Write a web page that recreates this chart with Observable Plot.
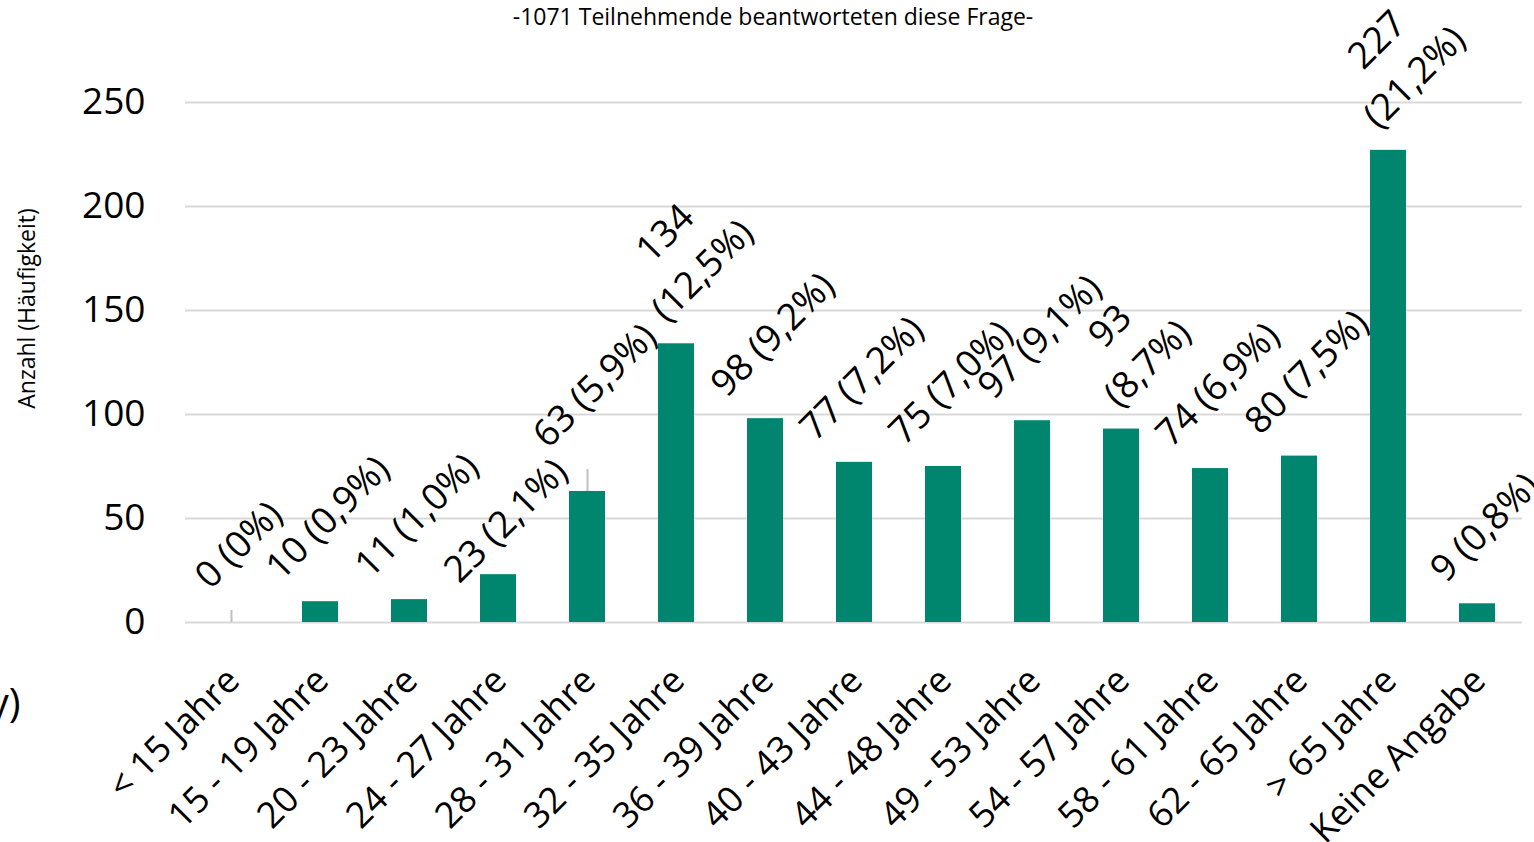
<!DOCTYPE html>
<html><head><meta charset="utf-8">
<script src="https://cdn.jsdelivr.net/npm/d3@7"></script>
<script src="https://cdn.jsdelivr.net/npm/@observablehq/plot@0.6"></script>
<style>
body{margin:0;background:#fff;font-family:"Open Sans",sans-serif;}
#wrap{position:relative;width:1534px;height:842px;overflow:hidden;background:#fff}
#title{position:absolute;left:0;width:1546px;top:0px;text-align:center;font-size:23px;color:#000;font-family:"Open Sans",sans-serif;z-index:2}
#wrap svg{position:absolute;left:0;top:0}
</style></head><body><div id="wrap"><div id="title"></div></div>
<script>
const title = "-1071 Teilnehmende beantworteten diese Frage-";
const categories = ["< 15 Jahre","15 - 19 Jahre","20 - 23 Jahre","24 - 27 Jahre","28 - 31 Jahre","32 - 35 Jahre","36 - 39 Jahre","40 - 43 Jahre","44 - 48 Jahre","49 - 53 Jahre","54 - 57 Jahre","58 - 61 Jahre","62 - 65 Jahre","> 65 Jahre","Keine Angabe"];
const counts = [0,10,11,23,63,134,98,77,75,97,93,74,80,227,9];
const percents = ["0","0,9","1,0","2,1","5,9","12,5","9,2","7,2","7,0","9,1","8,7","6,9","7,5","21,2","0,8"];
const wrapped = ["32 - 35 Jahre","54 - 57 Jahre","> 65 Jahre"];
const yTicks = [0,50,100,150,200,250];
const yTitle = "Anzahl (Häufigkeit)";
const xTitleFragment = "y)";

// labels that were dragged in the original (px, up positive); dragged-up ones show a leader line
const labelShift = {"< 15 Jahre": 12, "24 - 27 Jahre": -30, "28 - 31 Jahre": 22};

document.getElementById("title").textContent = title;

const data = categories.map((c,i)=>({
  cat:c, n:counts[i],
  label: wrapped.includes(c) ? `${counts[i]}\n(${percents[i]}%)` : `${counts[i]} (${percents[i]}%)`
}));

const leaderMarks = Object.entries(labelShift).filter(([k,s]) => s > 0).map(([k,lift]) =>
  Plot.ruleX(data.filter(d=>d.cat===k), {x:"cat", y1:"n", y2:"n", insetTop:-lift, stroke:"#bfbfbf", strokeWidth:2})
);

const svg = Plot.plot({
  width:1534, height:842,
  marginTop:102, marginBottom:220, marginLeft:185, marginRight:12,
  style:{fontFamily:"'Open Sans', sans-serif", background:"white", color:"#000", overflow:"visible"},
  x:{domain:categories, paddingInner:0.6, paddingOuter:0.3, label:null},
  y:{domain:[0,250], label:null},
  marks:[
    Plot.gridY(yTicks,{stroke:"#d9d9d9", strokeOpacity:1, strokeWidth:2}),
    ...leaderMarks,
    Plot.barY(data,{x:"cat", y:"n", fill:"#00856f"}),
    Plot.axisY(yTicks,{tickSize:0, tickPadding:40, fontSize:37, label:null}),
    Plot.axisX({tickSize:0, tickRotate:-45, tickPadding:52, dx:2, fontSize:36, label:null}),
    Plot.text(data,{x:"cat", y:"n", text:"label", rotate:-45, textAnchor:"middle", lineAnchor:"middle", fontSize:37, lineHeight:1.43, fill:"#000"}),
    Plot.text([yTitle],{frameAnchor:"left", textAnchor:"middle", lineAnchor:"middle", rotate:-90, dx:-158, dy:-54, fontSize:23, fill:"#000"}),
    Plot.text([xTitleFragment],{frameAnchor:"bottom-left", textAnchor:"end", lineAnchor:"middle", dx:-165, dy:82, fontSize:40, fill:"#000"})
  ]
});
document.getElementById("wrap").append(svg);

const gap = 14;
const labelTexts = Array.from(svg.querySelectorAll("text")).filter(t => t.textContent.includes("%"));
labelTexts.forEach((t,i)=>{
  const bb = t.getBBox();
  const tr = t.getAttribute("transform") || "";
  const m = tr.match(/translate\(\s*([-\d.e]+)[,\s]+([-\d.e]+)\s*\)/);
  if (!m) return;
  const x = +m[1], y = +m[2];
  const shift = (data[i] && labelShift[data[i].cat]) || 0;
  const off = gap + shift + (bb.width + bb.height)/(2*Math.SQRT2);
  t.setAttribute("transform", `translate(${x+4},${y-off}) rotate(-45)`);
});
</script></body></html>
